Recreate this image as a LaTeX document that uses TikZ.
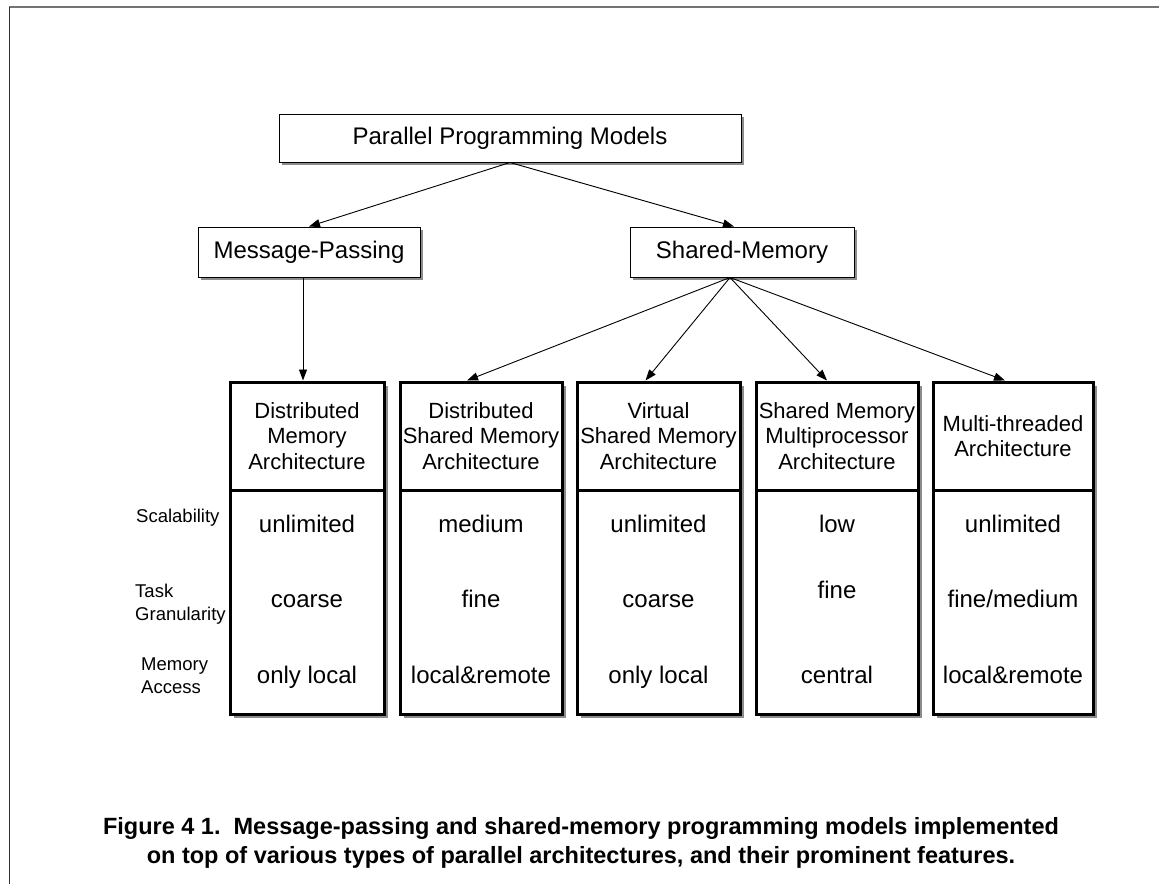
\documentclass[tikz,border=0pt]{standalone}
\usepackage{fontspec}
\setmainfont{Liberation Sans}
\usetikzlibrary{arrows.meta,shadows,calc}
\begin{document}
\begin{tikzpicture}[x=1pt,y=-1pt,
  topbox/.style={draw=black, line width=1pt, fill=white, inner sep=0pt,
    font=\fontsize{24}{28}\selectfont,
    drop shadow={shadow xshift=3pt, shadow yshift=-3pt, fill=black!45, opacity=1}},
  colbox/.style={draw=black, line width=3pt, fill=white, inner sep=0pt,
    drop shadow={shadow xshift=4pt, shadow yshift=-4pt, fill=black!45, opacity=1}},
  hdr/.style={colbox, align=center, font=\fontsize{22}{25.5}\selectfont, minimum height=108pt},
  bodybox/.style={colbox, minimum height=224pt},
  val/.style={anchor=base, inner sep=0pt, font=\fontsize{24}{28}\selectfont},
  lbl/.style={anchor=west, align=left, inner sep=0pt, font=\fontsize{18.5}{23}\selectfont},
  conn/.style={-{Triangle[length=11pt,width=8pt]}, line width=0.9pt},
]
\useasboundingbox (0,0) rectangle (1159,884);
% frame
\draw[black!55, line width=1.3pt] (9,7) -- (1159,7);
\draw[black!80, line width=1pt] (9,7) -- (9,884);

% top boxes
\node[topbox, minimum width=462pt, minimum height=48pt] (ppm) at (510,138) {Parallel Programming Models};
\node[topbox, minimum width=222pt, minimum height=50pt] (mp) at (309,252) {Message-Passing};
\node[topbox, minimum width=224pt, minimum height=50pt] (sm) at (742,252) {Shared-Memory};

% column headers
\node[hdr, minimum width=154pt] (h1) at (307,436) {Distributed\\Memory\\Architecture};
\node[hdr, minimum width=162pt] (h2) at (481,436) {Distributed\\Shared Memory\\Architecture};
\node[hdr, minimum width=163pt] (h3) at (658.5,436) {Virtual\\Shared Memory\\Architecture};
\node[hdr, minimum width=162pt] (h4) at (837,436) {Shared Memory\\Multiprocessor\\Architecture};
\node[hdr, minimum width=160pt] (h5) at (1013,436) {Multi-threaded\\Architecture};

% column bodies
\node[bodybox, minimum width=154pt] (b1) at (307,602) {};
\node[bodybox, minimum width=162pt] (b2) at (481,602) {};
\node[bodybox, minimum width=163pt] (b3) at (658.5,602) {};
\node[bodybox, minimum width=162pt] (b4) at (837,602) {};
\node[bodybox, minimum width=160pt] (b5) at (1013,602) {};

% values
\node[val] (v11) at (307,532) {unlimited};
\node[val] (v12) at (307,607) {coarse};
\node[val] (v13) at (307,683) {only local};
\node[val] (v21) at (481,532) {medium};
\node[val] (v22) at (481,607) {fine};
\node[val] (v23) at (481,683) {local\&remote};
\node[val] (v31) at (658.5,532) {unlimited};
\node[val] (v32) at (658.5,607) {coarse};
\node[val] (v33) at (658.5,683) {only local};
\node[val] (v41) at (837,532) {low};
\node[val] (v42) at (837,598) {fine};
\node[val] (v43) at (837,683) {central};
\node[val] (v51) at (1013,532) {unlimited};
\node[val] (v52) at (1013,607) {fine/medium};
\node[val] (v53) at (1013,683) {local\&remote};

% row labels
\node[lbl] (ls) at (136,518) {Scalability};
\node[lbl] (lt) at (135,604) {Task\\Granularity};
\node[lbl] (lm) at (141,676) {Memory\\Access};

% connectors
\coordinate (smb) at ($(sm.south)+(-12,0)$);
\draw[conn] (ppm.south) -- (mp.north);
\draw[conn] (ppm.south) -- ($(sm.north)+(-8,0)$);
\draw[conn] ($(mp.south)+(-6,0)$) -- ($(h1.north)+(-4,0)$);
\draw[conn] (smb) -- ($(h2.north)+(-14,0)$);
\draw[conn] (smb) -- ($(h3.north)+(-13,0)$);
\draw[conn] (smb) -- ($(h4.north)+(-10,0)$);
\draw[conn] (smb) -- ($(h5.north)+(-8,0)$);

% caption
\node[align=center, inner sep=0pt, font=\bfseries\fontsize{23.5}{29}\selectfont] (cap) at (581,843)
  {Figure 4 1.\ \ Message-passing and shared-memory programming models implemented\\on top of various types of parallel architectures, and their prominent features.};
\end{tikzpicture}
\end{document}
